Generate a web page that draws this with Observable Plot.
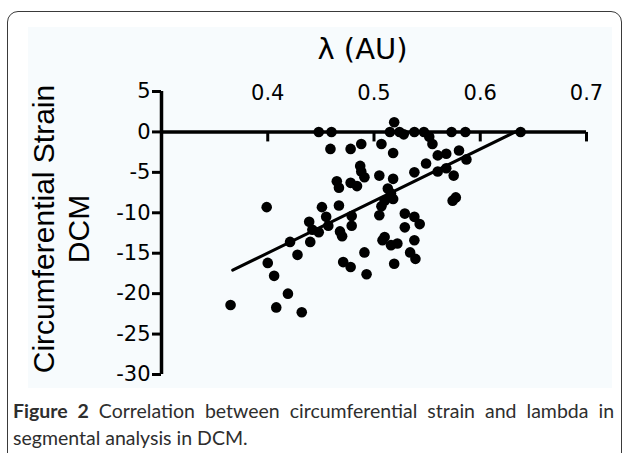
<!DOCTYPE html>
<html><head><meta charset="utf-8">
<script src="https://cdn.jsdelivr.net/npm/d3@7"></script>
<script src="https://cdn.jsdelivr.net/npm/@observablehq/plot@0.6"></script>
<style>
html,body{margin:0;padding:0;background:#fff;}
#wrap{position:relative;width:625px;height:453px;overflow:hidden;}
#frame{position:absolute;left:7px;top:11px;width:615px;height:470px;border:1.5px solid #3a3a3a;border-radius:11px;box-sizing:border-box;}
#bg{position:absolute;left:28px;top:27px;width:584px;height:361px;background:#f7fbfd;}
#chart{position:absolute;left:0;top:0;}
#cap{position:absolute;left:13px;top:397px;width:601px;font-family:Lato,"Open Sans",sans-serif;font-size:19.5px;line-height:27px;color:#2e2e2e;text-align:justify;}
#cap .fig{font-weight:bold;}
</style></head><body>
<div id="wrap"><div id="frame"></div><div id="bg"></div><div id="chart"></div><div id="cap"><span class="fig">Figure 2</span><span> Correlation between circumferential strain and lambda in</span> <span>segmental analysis in DCM.</span></div></div>
<script>
const lambda = [
  0.448,0.460,0.519,0.515,0.524,0.528,0.538,0.547,0.552,0.555,0.573,0.586,0.638,
  0.459,0.478,0.488,0.507,0.518,0.560,0.568,0.580,0.587,
  0.487,0.488,0.491,0.465,0.467,0.478,0.484,0.505,0.518,0.538,0.549,0.560,0.568,0.575,0.513,0.516,
  0.510,0.518,0.574,0.577,0.399,0.451,0.467,0.507,0.505,0.455,0.479,0.529,0.538,
  0.457,0.479,0.468,0.470,0.448,0.439,0.442,0.543,0.529,0.510,0.508,0.516,0.522,0.538,0.440,0.421,
  0.428,0.534,0.539,0.519,0.491,0.493,0.471,0.478,0.400,0.406,
  0.365,0.419,0.408,0.432
];
const strain = [
  0,0,1.2,0,0,-0.3,0,0,-0.6,-1.5,0,0,0,
  -2.1,-2.1,-1.5,-1.5,-2.6,-2.9,-2.7,-2.3,-3.4,
  -4.2,-4.9,-5.6,-6.1,-6.9,-6.3,-6.7,-5.4,-5.8,-5.0,-3.9,-4.9,-4.5,-5.4,-7.0,-7.6,
  -8.5,-8.3,-8.5,-8.1,-9.3,-9.3,-9.1,-9.2,-10.3,-10.5,-10.4,-10.1,-10.5,
  -11.6,-11.6,-12.3,-12.9,-12.4,-11.1,-12.1,-11.4,-11.8,-13.0,-13.4,-14.0,-13.8,-13.4,-13.6,-13.6,
  -15.2,-14.9,-15.7,-16.3,-14.9,-17.6,-16.1,-16.7,-16.2,-17.8,
  -21.4,-20.0,-21.7,-22.3
];
const fitLambda = [0.367, 0.633];
const fitStrain = [-17.1, 0];
const xTicks = [0.4, 0.5, 0.6, 0.7];
const xTickLabels = ["0.4", "0.5", "0.6", "0.7"];
const yTicks = [5, 0, -5, -10, -15, -20, -25, -30];
const yTickLabels = ["5", "0", "-5", "-10", "-15", "-20", "-25", "-30"];
const xDomain = [0.3, 0.7];
const yDomain = [-30, 5];
const xLabel = "λ (AU)";
const yLabel = "Circumferential Strain\nDCM";

const points = lambda.map((x, i) => ({x, y: strain[i]}));
const fit = fitLambda.map((x, i) => ({x, y: fitStrain[i]}));
const tickDown = {draw(ctx) { ctx.moveTo(0, 0); ctx.lineTo(0, 9.5); }};

const chart = Plot.plot({
  width: 625, height: 390,
  marginLeft: 161, marginRight: 39, marginTop: 91, marginBottom: 16,
  x: {domain: xDomain, axis: null},
  y: {domain: yDomain, axis: null},
  style: {background: "transparent", fontFamily: "DejaVu Sans", fontSize: "21px", color: "#000", overflow: "visible"},
  marks: [
    Plot.ruleX([xDomain[0]], {y1: yDomain[0], y2: yDomain[1], strokeWidth: 3.5}),
    Plot.ruleY([0], {x1: xDomain[0], x2: xDomain[1], strokeWidth: 3.5}),
    Plot.axisY({ticks: yTicks, tickFormat: d => yTickLabels[yTicks.indexOf(d)], tickSize: 9, tickPadding: 2, strokeWidth: 3, fontSize: 21, label: null}),
    Plot.dot(xTicks, {x: d => d, y: 0, symbol: tickDown, stroke: "#000", fill: "none", strokeWidth: 3}),
    Plot.text(xTicks, {x: d => d, y: yDomain[1], text: (d, i) => xTickLabels[i], fontSize: 21, dy: 1.5}),
    Plot.line(fit, {x: "x", y: "y", strokeWidth: 3}),
    Plot.dot(points, {x: "x", y: "y", r: 5.3, fill: "#000"}),
    Plot.text([xLabel], {text: d => d, frameAnchor: "top", lineAnchor: "middle", textAnchor: "middle", dx: -11.5, dy: -41.5, fontSize: 29}),
    Plot.text([yLabel], {text: d => d, frameAnchor: "left", rotate: -90, textAnchor: "middle", lineAnchor: "middle", lineHeight: 1.15, dx: -101, dy: -4, fontSize: 30, fontFamily: "Liberation Sans"})
  ]
});
document.getElementById("chart").appendChild(chart);
</script>
</body></html>
